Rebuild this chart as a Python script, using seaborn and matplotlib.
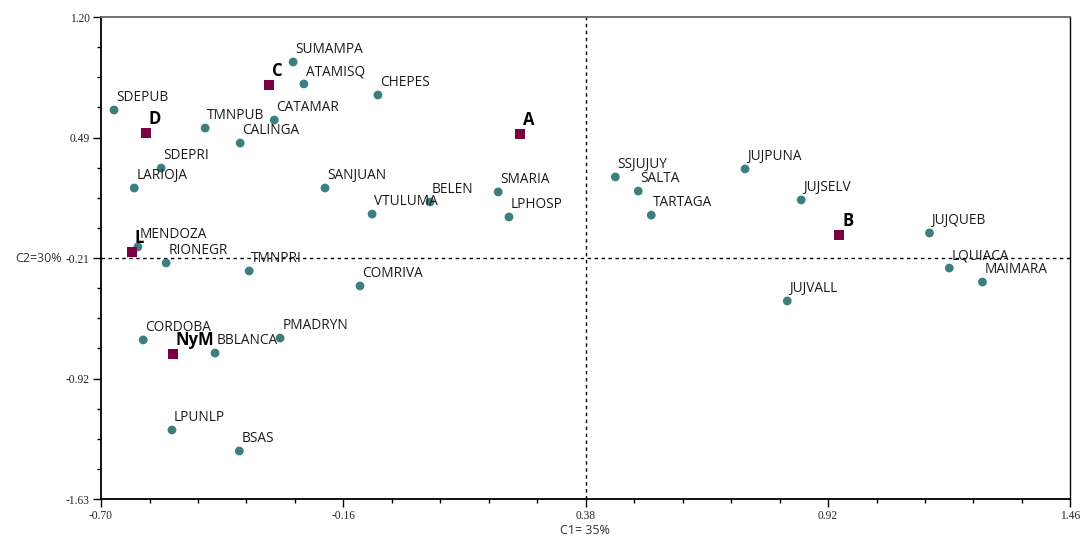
import numpy as np
import pandas as pd
import matplotlib
matplotlib.use("Agg")
import matplotlib.pyplot as plt
import seaborn as sns

# Sites projected on the first two components
site_names = ["SDEPUB", "SUMAMPA", "ATAMISQ", "CHEPES", "TMNPUB", "CATAMAR", "CALINGA",
              "SDEPRI", "LARIOJA", "SANJUAN", "VTULUMA", "BELEN", "SMARIA", "LPHOSP",
              "MENDOZA", "RIONEGR", "TMNPRI", "COMRIVA", "CORDOBA", "BBLANCA", "PMADRYN",
              "LPUNLP", "BSAS", "SSJUJUY", "SALTA", "TARTAGA", "JUJPUNA", "JUJSELV",
              "JUJVALL", "JUJQUEB", "LQUIACA", "MAIMARA"]
site_c1 = [-0.671, -0.272, -0.248, -0.083, -0.468, -0.314, -0.390,
           -0.566, -0.626, -0.201, -0.096, 0.033, 0.185, 0.209,
           -0.618, -0.555, -0.370, -0.123, -0.606, -0.446, -0.301,
           -0.542, -0.392, 0.446, 0.497, 0.526, 0.735, 0.860,
           0.829, 1.146, 1.190, 1.264]
site_c2 = [0.654, 0.936, 0.807, 0.742, 0.548, 0.595, 0.460,
           0.313, 0.196, 0.196, 0.043, 0.114, 0.173, 0.026,
           -0.150, -0.244, -0.291, -0.379, -0.696, -0.773, -0.685,
           -1.225, -1.348, 0.261, 0.178, 0.037, 0.308, 0.126,
           -0.467, -0.068, -0.274, -0.356]

# Group centroids
group_names = ["C", "D", "A", "B", "L", "NyM"]
group_c1 = [-0.326, -0.600, 0.234, 0.945, -0.631, -0.540]
group_c2 = [0.801, 0.519, 0.513, -0.080, -0.180, -0.779]

x_ticks = [-0.70, -0.16, 0.38, 0.92, 1.46]
x_tick_labels = ["-0.70", "-0.16", "0.38", "0.92", "1.46"]
y_ticks = [-1.63, -0.9225, -0.215, 0.4925, 1.20]
y_tick_labels = ["-1.63", "-0.92", "-0.21", "0.49", "1.20"]
x_label = "C1= 35%"
y_label = "C2=30%"

sites = pd.DataFrame({"name": site_names, "C1": site_c1, "C2": site_c2})
groups = pd.DataFrame({"name": group_names, "C1": group_c1, "C2": group_c2})

sns.set_style("white")
plt.rcParams["font.family"] = ["Open Sans", "DejaVu Sans"]

fig = plt.figure(figsize=(10.83, 5.40), dpi=100)
ax = fig.add_axes([0.0933, 0.0759, 0.8951, 0.8926])

teal = "#3b7f80"
maroon = "#7b0043"

# reference lines through the centre of the map
ax.axvline(x_ticks[2], color="black", lw=1.0, ls=(0, (2.5, 2.5)), zorder=1)
ax.axhline(y_ticks[2], color="black", lw=1.0, ls=(0, (2.5, 2.5)), zorder=1)

sns.scatterplot(data=sites, x="C1", y="C2", ax=ax, color=teal, marker="o",
                s=40, edgecolor="none", zorder=3)
sns.scatterplot(data=groups, x="C1", y="C2", ax=ax, color=maroon, marker="s",
                s=55, edgecolor="none", zorder=3)

for _, r in sites.iterrows():
    ax.annotate(r["name"], (r["C1"], r["C2"]), xytext=(1.5, 8.8),
                textcoords="offset points", ha="left", va="center",
                fontsize=9.8, color="#1a1a1a", zorder=4)
for _, r in groups.iterrows():
    ax.annotate(r["name"], (r["C1"], r["C2"]), xytext=(2.0, 9.8),
                textcoords="offset points", ha="left", va="center",
                fontsize=12, fontweight="bold", color="black", zorder=4)

ax.set_xlim(x_ticks[0], x_ticks[-1])
ax.set_ylim(y_ticks[0], y_ticks[-1])
ax.set_xticks(x_ticks)
ax.set_xticklabels(x_tick_labels, family="Liberation Serif", fontsize=8.3)
ax.set_yticks(y_ticks)
ax.set_yticklabels(y_tick_labels, family="Liberation Serif", fontsize=8.3)
ax.set_xticks(np.linspace(x_ticks[0], x_ticks[-1], 21), minor=True)
ax.set_yticks(np.linspace(y_ticks[0], y_ticks[-1], 17), minor=True)
ax.tick_params(which="major", direction="out", length=6, width=1.0, color="black",
               pad=2, left=True, bottom=True)
ax.tick_params(which="minor", direction="out", length=3, width=1.0, color="black",
               left=True, bottom=True)

ax.set_xlabel(x_label, fontsize=9, color="#333333", va="center")
ax.xaxis.set_label_coords(0.4995, -0.066)
ax.set_ylabel(y_label, fontsize=9, color="#333333", rotation=0, ha="right", va="center")
ax.yaxis.set_label_coords(-0.04, 0.5)

for side in ["left", "bottom"]:
    ax.spines[side].set_color("black")
    ax.spines[side].set_linewidth(1.3)
ax.spines["right"].set_color("black")
ax.spines["right"].set_linewidth(1.0)
ax.spines["top"].set_color("#666666")
ax.spines["top"].set_linewidth(1.3)
ax.grid(False)

fig.savefig("out.png", dpi=100, facecolor="white")
